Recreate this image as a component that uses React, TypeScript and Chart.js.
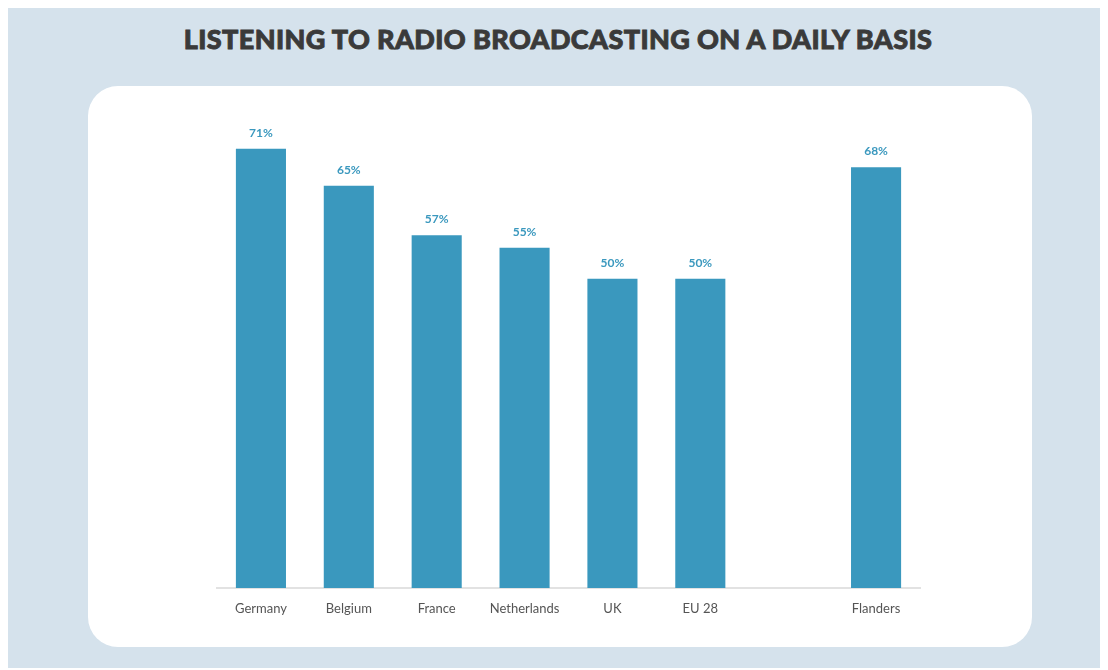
import React, { useEffect, useRef } from "react";
import { Chart, registerables } from "chart.js";

Chart.register(...registerables);

const categories = ["Germany", "Belgium", "France", "Netherlands", "UK", "EU 28", "", "Flanders"];
const values: (number | null)[] = [71, 65, 57, 55, 50, 50, null, 68];
const titleText = "LISTENING TO RADIO BROADCASTING ON A DAILY BASIS";

const BAR = "#3a98be";

const valueLabels = {
  id: "valueLabels",
  afterDatasetsDraw(chart: any) {
    const ctx = chart.ctx;
    const meta = chart.getDatasetMeta(0);
    ctx.save();
    ctx.font = "bold 12px Lato";
    ctx.fillStyle = BAR;
    ctx.textAlign = "center";
    ctx.textBaseline = "bottom";
    meta.data.forEach((bar: any, i: number) => {
      const v = values[i];
      if (v == null) return;
      ctx.fillText(v + "%", bar.x, bar.y - 10);
    });
    ctx.restore();
  },
};

export default function App() {
  const ref = useRef<HTMLCanvasElement>(null);
  useEffect(() => {
    const chart = new Chart(ref.current!, {
      type: "bar",
      data: {
        labels: categories,
        datasets: [
          {
            data: values,
            backgroundColor: BAR,
            barPercentage: 0.57,
            categoryPercentage: 1,
          },
        ],
      },
      options: {
        animation: false,
        responsive: false,
        maintainAspectRatio: false,
        layout: { padding: { left: 129, right: 112, top: 7, bottom: 0 } },
        plugins: { legend: { display: false }, tooltip: { enabled: false } },
        scales: {
          x: {
            grid: { display: false },
            border: { display: true, color: "#e2e2e2", width: 2 },
            ticks: { color: "#555", font: { family: "Lato", size: 13 }, padding: 5 },
            afterFit: (s: any) => {
              s.height = 59;
            },
          },
          y: { display: false, min: 0, max: 80 },
        },
      },
      plugins: [valueLabels],
    });
    return () => chart.destroy();
  }, []);

  return (
    <div
      style={{
        position: "relative",
        width: 1100,
        height: 661,
        marginTop: -1,
        background: "#d5e2ec",
      }}
    >
      <div
        style={{
          position: "absolute",
          top: 15,
          left: 0,
          width: 1100,
          textAlign: "center",
          fontFamily: "Lato",
          fontWeight: 900,
          fontSize: 27,
          letterSpacing: 0.4,
          color: "#3a3a3a",
          WebkitTextStroke: "0.9px #3a3a3a",
        }}
      >
        {titleText}
      </div>
      <div
        style={{
          position: "absolute",
          left: 80,
          top: 79,
          width: 944,
          height: 561,
          background: "#fff",
          borderRadius: 30,
          overflow: "hidden",
        }}
      >
        <canvas ref={ref} width={944} height={561} style={{ display: "block" }} />
      </div>
    </div>
  );
}
